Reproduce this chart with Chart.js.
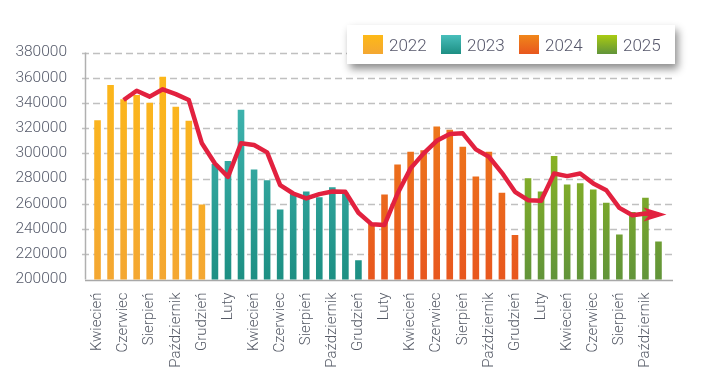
<!DOCTYPE html>
<html lang="pl">
<head>
<meta charset="utf-8">
<script src="https://cdn.jsdelivr.net/npm/chart.js@4/dist/chart.umd.min.js"></script>
<style>
    html, body { margin: 0; padding: 0; background: #fff; }
    #wrap { position: relative; width: 716px; height: 376px; }
    #legenda {
        position: absolute; left: 347px; top: 25px; width: 312px; height: 39px;
        padding-left: 16px; background: #fff;
        box-shadow: 3px 5px 8px rgba(0,0,0,0.45);
        display: flex; align-items: center;
        font-family: Roboto, sans-serif; font-weight: 300; font-size: 17px; color: #55566a;
    }
    #legenda .item { width: 80px; display: flex; align-items: center; }
    #legenda .kolor { width: 20px; height: 19px; margin-right: 6px; }
</style>
</head>
<body>
<div id="wrap">
    <canvas id="grafico" width="716" height="376"></canvas>
    <div id="legenda"></div>
</div>
<script>
const miesiace = [
    "Kwiecień", "Maj", "Czerwiec", "Lipiec", "Sierpień", "Wrzesień", "Październik", "Listopad", "Grudzień",
    "Styczeń", "Luty", "Marzec", "Kwiecień", "Maj", "Czerwiec", "Lipiec", "Sierpień", "Wrzesień", "Październik", "Listopad", "Grudzień",
    "Styczeń", "Luty", "Marzec", "Kwiecień", "Maj", "Czerwiec", "Lipiec", "Sierpień", "Wrzesień", "Październik", "Listopad", "Grudzień",
    "Styczeń", "Luty", "Marzec", "Kwiecień", "Maj", "Czerwiec", "Lipiec", "Sierpień", "Wrzesień", "Październik", "Listopad"
];

const lata = ["2022", "2023", "2024", "2025"];

const wartosci2022 = [327000, 355000, 343700, 347000, 341000, 361600, 337800, 326700, 260300];
const wartosci2023 = [292300, 294700, 335400, 288100, 279400, 256300, 268500, 270600, 266100, 274000, 269500, 216000];
const wartosci2024 = [245000, 268200, 292000, 302000, 303200, 322200, 319500, 306000, 282500, 302000, 269500, 236000];
const wartosci2025 = [281000, 270600, 298700, 276200, 277200, 272200, 261600, 236500, 254400, 265600, 231000];

// srednia 3-miesieczna
const trend = [
    null, null, 342300, 349700, 345000, 350800, 347000, 342300, 308000,
    292000, 281400, 308000, 306600, 300800, 274800, 268200, 264300, 267700, 269800, 269500, 252900,
    243900, 243300, 268200, 288100, 300000, 310000, 315300, 315900, 303200, 297300, 284600, 269500,
    262900, 262400, 284100, 282000, 284100, 276200, 270800, 256800, 251000, 252400, 251500
];

const cores = [
    ["#fdb917", "#f4a732"],
    ["#48bebb", "#1d8f83"],
    ["#f0861a", "#e8571e"],
    ["#a9cb12", "#61943a"]
];

const serieAno = [wartosci2022, wartosci2023, wartosci2024, wartosci2025];

/* coloca cada ano na sua posicao no eixo, resto null */
function posicionar(idx) {
    let inicio = 0;
    for (let i = 0; i < idx; i++) inicio += serieAno[i].length;
    return miesiace.map((_, i) => {
        const j = i - inicio;
        return (j >= 0 && j < serieAno[idx].length) ? serieAno[idx][j] : null;
    });
}

function gradiente(idx) {
    return (ctx) => {
        const area = ctx.chart.chartArea;
        if (!area) return cores[idx][0];
        const g = ctx.chart.ctx.createLinearGradient(0, area.top, 0, area.bottom);
        g.addColorStop(0, cores[idx][0]);
        g.addColorStop(1, cores[idx][1]);
        return g;
    };
}

/* legenda */
const legenda = document.getElementById("legenda");
lata.forEach((ano, i) => {
    const item = document.createElement("div");
    item.className = "item";
    item.innerHTML = `<span class="kolor" style="background:linear-gradient(${cores[i][0]},${cores[i][1]})"></span>${ano}`;
    legenda.appendChild(item);
});

/* linhas de grade tracejadas um pouco mais largas que a area */
const gradePlugin = {
    id: "grade",
    beforeDatasetsDraw(chart) {
        const { ctx, chartArea, scales } = chart;
        const y = scales.y;
        const esq = chartArea.left - 9, dir = chartArea.right + 8;
        ctx.save();
        ctx.lineWidth = 1.5;
        y.ticks.forEach(t => {
            const py = Math.round(y.getPixelForValue(t.value)) + 0.5;
            ctx.beginPath();
            if (t.value === y.min) {
                ctx.setLineDash([]);
                ctx.strokeStyle = "#a8a8a8";
                ctx.moveTo(chartArea.left - 6, py);
            } else {
                ctx.setLineDash([7, 4]);
                ctx.strokeStyle = "#c0c0c0";
                ctx.moveTo(esq, py);
            }
            ctx.lineTo(dir, py);
            ctx.stroke();
        });
        ctx.setLineDash([]);
        ctx.strokeStyle = "#b0b0b0";
        ctx.beginPath();
        ctx.moveTo(chartArea.left - 5.5, chartArea.top);
        ctx.lineTo(chartArea.left - 5.5, chartArea.bottom);
        ctx.stroke();
        ctx.restore();
    }
};

/* ponta de seta no fim da linha */
const setaPlugin = {
    id: "seta",
    afterDatasetsDraw(chart) {
        const meta = chart.getDatasetMeta(4);
        const p = meta.data[meta.data.length - 1];
        if (!p) return;
        const ctx = chart.ctx;
        ctx.save();
        ctx.fillStyle = "#e2213f";
        ctx.beginPath();
        ctx.moveTo(p.x + 8, p.y);
        ctx.lineTo(p.x - 15, p.y - 7);
        ctx.lineTo(p.x - 9, p.y);
        ctx.lineTo(p.x - 15, p.y + 7);
        ctx.closePath();
        ctx.fill();
        ctx.restore();
    }
};

const datasets = lata.map((ano, i) => ({
    type: "bar",
    label: ano,
    data: posicionar(i),
    backgroundColor: gradiente(i),
    borderColor: "rgba(255,255,255,0.35)",
    borderWidth: 1,
    skipNull: true,
    categoryPercentage: 1,
    barPercentage: 0.66,
    order: 2
}));

datasets.push({
    type: "line",
    label: "trend",
    data: trend,
    borderColor: "#e2213f",
    borderWidth: 4.5,
    borderJoinStyle: "round",
    pointRadius: 0,
    tension: 0,
    fill: false,
    order: 1
});

new Chart(document.getElementById("grafico"), {
    data: { labels: miesiace, datasets: datasets },
    options: {
        responsive: false,
        animation: false,
        devicePixelRatio: 1,
        layout: { padding: { left: 0, right: 51, top: 52.5, bottom: 0 } },
        plugins: { legend: { display: false }, tooltip: { enabled: false } },
        scales: {
            x: {
                grid: { display: false },
                border: { display: false },
                afterFit: (s) => { s.height = 96.5; },
                ticks: {
                    autoSkip: false,
                    maxRotation: 90,
                    minRotation: 90,
                    padding: 5,
                    color: "#555a66",
                    font: { family: "Roboto", size: 15, weight: 300 },
                    callback: function (v, i) { return i % 2 === 0 ? this.getLabelForValue(v) : ""; }
                }
            },
            y: {
                min: 200000,
                max: 380000,
                grid: { display: false },
                border: { display: false },
                afterFit: (s) => { s.width = 91; },
                ticks: {
                    stepSize: 20000,
                    padding: 16,
                    color: "#555a6a",
                    font: { family: "Roboto", size: 15.5, weight: 300 },
                    callback: (v) => String(v)
                }
            }
        }
    },
    plugins: [gradePlugin, setaPlugin]
});
</script>
</body>
</html>
